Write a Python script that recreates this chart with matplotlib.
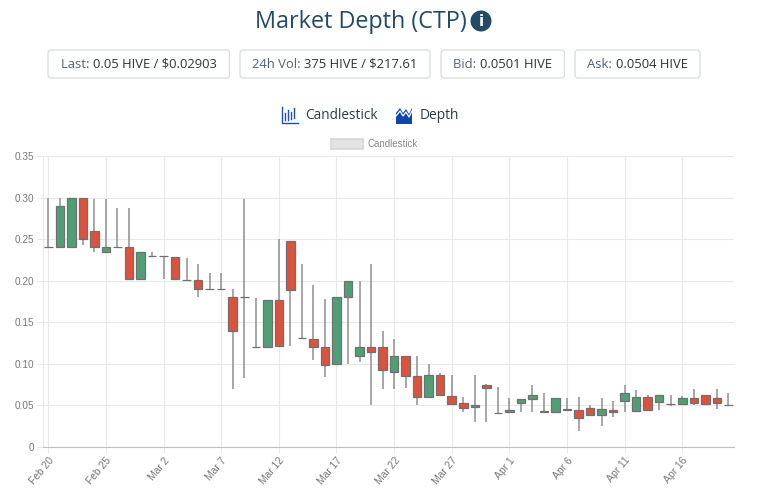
import matplotlib
matplotlib.use("Agg")
import matplotlib.pyplot as plt
from matplotlib.patches import FancyBboxPatch, Circle, Rectangle, Polygon
from matplotlib.transforms import ScaledTranslation

# candles, one per day from Feb 20
opens = [0.2405, 0.241, 0.241, 0.30, 0.26, 0.235, 0.24, 0.24, 0.202, 0.23,
         0.2295, 0.229, 0.2012, 0.2012, 0.19, 0.19, 0.181, 0.18, 0.12, 0.12,
         0.177, 0.248, 0.1305, 0.13, 0.12, 0.10, 0.18, 0.11, 0.12, 0.12,
         0.09, 0.11, 0.085, 0.06, 0.087, 0.061, 0.0525, 0.048, 0.0745, 0.041,
         0.0415, 0.0535, 0.058, 0.0432, 0.042, 0.046, 0.0445, 0.047, 0.0385, 0.045,
         0.055, 0.0432, 0.0605, 0.0545, 0.0515, 0.0515, 0.0585, 0.0625, 0.0585, 0.0508]
closes = [0.2405, 0.29, 0.30, 0.25, 0.24, 0.2405, 0.24, 0.2015, 0.2345, 0.23,
          0.2295, 0.2015, 0.2012, 0.19, 0.19, 0.19, 0.14, 0.18, 0.12, 0.177,
          0.121, 0.189, 0.1305, 0.12, 0.099, 0.18, 0.20, 0.12, 0.1145, 0.0925,
          0.11, 0.085, 0.06, 0.087, 0.062, 0.052, 0.0475, 0.05, 0.0715, 0.041,
          0.0445, 0.058, 0.0625, 0.0415, 0.059, 0.0445, 0.035, 0.0385, 0.0455, 0.0425,
          0.065, 0.0605, 0.045, 0.063, 0.0515, 0.0585, 0.0535, 0.0512, 0.0525, 0.0508]
highs = [0.30, 0.30, 0.30, 0.30, 0.298, 0.298, 0.287, 0.287, 0.2345, 0.234,
         0.2295, 0.229, 0.227, 0.2196, 0.2096, 0.209, 0.19, 0.298, 0.179, 0.177,
         0.25, 0.248, 0.22, 0.195, 0.178, 0.18, 0.20, 0.20, 0.22, 0.14,
         0.13, 0.11, 0.11, 0.10, 0.0885, 0.087, 0.06, 0.087, 0.076, 0.072,
         0.059, 0.058, 0.075, 0.065, 0.059, 0.059, 0.06, 0.05, 0.059, 0.055,
         0.075, 0.068, 0.063, 0.063, 0.062, 0.0615, 0.07, 0.0625, 0.07, 0.065]
lows = [0.2405, 0.241, 0.241, 0.2425, 0.235, 0.235, 0.24, 0.2015, 0.202, 0.23,
        0.202, 0.2015, 0.2012, 0.18, 0.19, 0.19, 0.07, 0.0835, 0.12, 0.12,
        0.121, 0.121, 0.1305, 0.105, 0.084, 0.10, 0.10, 0.102, 0.05, 0.07,
        0.07, 0.071, 0.05, 0.06, 0.062, 0.05, 0.042, 0.03, 0.03, 0.041,
        0.0415, 0.0425, 0.0415, 0.0415, 0.042, 0.0445, 0.0196, 0.0385, 0.0255, 0.0355,
        0.0425, 0.0432, 0.045, 0.045, 0.049, 0.0515, 0.0505, 0.0512, 0.0455, 0.0508]

tick_labels = ["Feb 20", "Feb 25", "Mar 2", "Mar 7", "Mar 12", "Mar 17",
               "Mar 22", "Mar 27", "Apr 1", "Apr 6", "Apr 11", "Apr 16"]
y_ticks = [0, 0.05, 0.10, 0.15, 0.20, 0.25, 0.30, 0.35]
y_labels = ["0", "0.05", "0.10", "0.15", "0.20", "0.25", "0.30", "0.35"]

buttons = [("Last: ", "0.05 HIVE / $0.02903", 48, 229.5),
           ("24h Vol: ", "375 HIVE / $217.61", 240, 430),
           ("Bid: ", "0.0501 HIVE", 441, 564.5),
           ("Ask: ", "0.0504 HIVE", 575, 700)]

GREEN = "#4f9f74"
RED = "#dc523c"
NAVY = "#234a66"
W, H = 768, 494

fig = plt.figure(figsize=(W / 100, H / 100), dpi=100)

# chart area
ax = fig.add_axes([42.7 / W, 1 - 447 / H, (734 - 42.7) / W, (447 - 156) / H])
xs = list(range(len(opens)))
colors = [GREEN if c > o else RED for o, c in zip(opens, closes)]
bottoms = [min(o, c) for o, c in zip(opens, closes)]
heights = [abs(o - c) for o, c in zip(opens, closes)]
ax.vlines(xs, lows, highs, color="#8f8f8f", lw=1.1, zorder=2)
ax.bar(xs, heights, bottom=bottoms, width=0.74, color=colors,
       edgecolor="#707070", lw=0.9, zorder=3)

ax.set_xlim(-0.486, 59.49)
ax.set_ylim(0, 0.35)
ax.set_yticks(y_ticks)
ax.set_yticklabels(y_labels, fontfamily="Liberation Sans", fontsize=7.2, color="#777777")
ax.set_xticks(xs[::5])
ax.set_xticklabels(tick_labels, fontfamily="Liberation Sans", fontsize=7.4, color="#777777",
                   rotation=50, ha="right", rotation_mode="anchor")
# nudge the date labels left, they sit right under the tick in the original
shift = ScaledTranslation(-3 / 100, 1 / 100, fig.dpi_scale_trans)
for lab in ax.get_xticklabels():
    lab.set_transform(lab.get_transform() + shift)
ax.tick_params(axis="both", length=4, width=0.7, color="#e8e8e8", pad=2)
ax.grid(True, color="#e9e9e9", lw=0.8, zorder=0)
ax.set_axisbelow(True)
for side in ["top", "right"]:
    ax.spines[side].set_visible(False)
ax.spines["left"].set_color("#e8e8e8")
ax.spines["left"].set_linewidth(0.7)
ax.spines["bottom"].set_color("#c0c0c0")

# page furniture in pixel coordinates
page = fig.add_axes([0, 0, 1, 1], zorder=5)
page.set_xlim(0, W)
page.set_ylim(H, 0)
page.axis("off")
page.patch.set_alpha(0)

page.text(360.5, 22.5, "Market Depth (CTP)", fontfamily="Open Sans", fontsize=16.8,
          color=NAVY, ha="center", va="center")
page.add_patch(Circle((481, 21), 10.5, color=NAVY, lw=0))
page.text(481, 21, "i", fontfamily="DejaVu Sans", fontweight="bold", fontsize=11,
          color="white", ha="center", va="center")

renderer = fig.canvas.get_renderer()
for label, value, x0, x1 in buttons:
    page.add_patch(FancyBboxPatch((x0 + 2, 52), x1 - x0 - 4, 24,
                                  boxstyle="round,pad=2,rounding_size=3",
                                  fc="white", ec="#d8dcdf", lw=0.9))
    t1 = page.text(0, 64, label, fontfamily="Open Sans", fontsize=9.4,
                   color="#4f6272", va="center")
    t2 = page.text(0, 64, value, fontfamily="Open Sans", fontsize=9.4,
                   color="#2f3338", va="center")
    w1 = t1.get_window_extent(renderer).width
    w2 = t2.get_window_extent(renderer).width
    start = (x0 + x1) / 2 - (w1 + w2) / 2
    t1.set_x(start)
    t2.set_x(start + w1)

# candlestick icon
page.plot([281.5, 281.5, 297.5], [107, 123.5, 123.5], color="#1f4fa8", lw=1.0)
for px, top, bot in [(285, 113, 120), (288, 110, 120), (291, 112, 119), (294, 108, 118)]:
    page.plot([px, px], [top, bot], color="#1f4fa8", lw=1.0)
page.text(305, 115.5, "Candlestick", fontfamily="Open Sans", fontsize=9.8,
          color="#2b3a4a", va="center")

# depth icon
page.add_patch(Polygon([(396, 124), (396, 113), (400, 108), (403, 113), (406, 109),
                        (409, 114), (412, 108), (412, 124)], color="#0f46a8", lw=0))
page.plot([396, 400, 403, 406, 409, 412], [116, 111, 116, 112, 117, 111], color="white", lw=0.9)
page.text(420, 115.5, "Depth", fontfamily="Open Sans", fontsize=9.9,
          color="#2b3a4a", va="center")

# chart legend
page.add_patch(Rectangle((331, 139), 32, 9.5, fc="#e4e4e4", ec="#d6d6d6", lw=1.2))
page.text(368, 143.5, "Candlestick", fontfamily="Liberation Sans", fontsize=7,
          color="#888888", va="center")

fig.savefig("out.png", dpi=100)
